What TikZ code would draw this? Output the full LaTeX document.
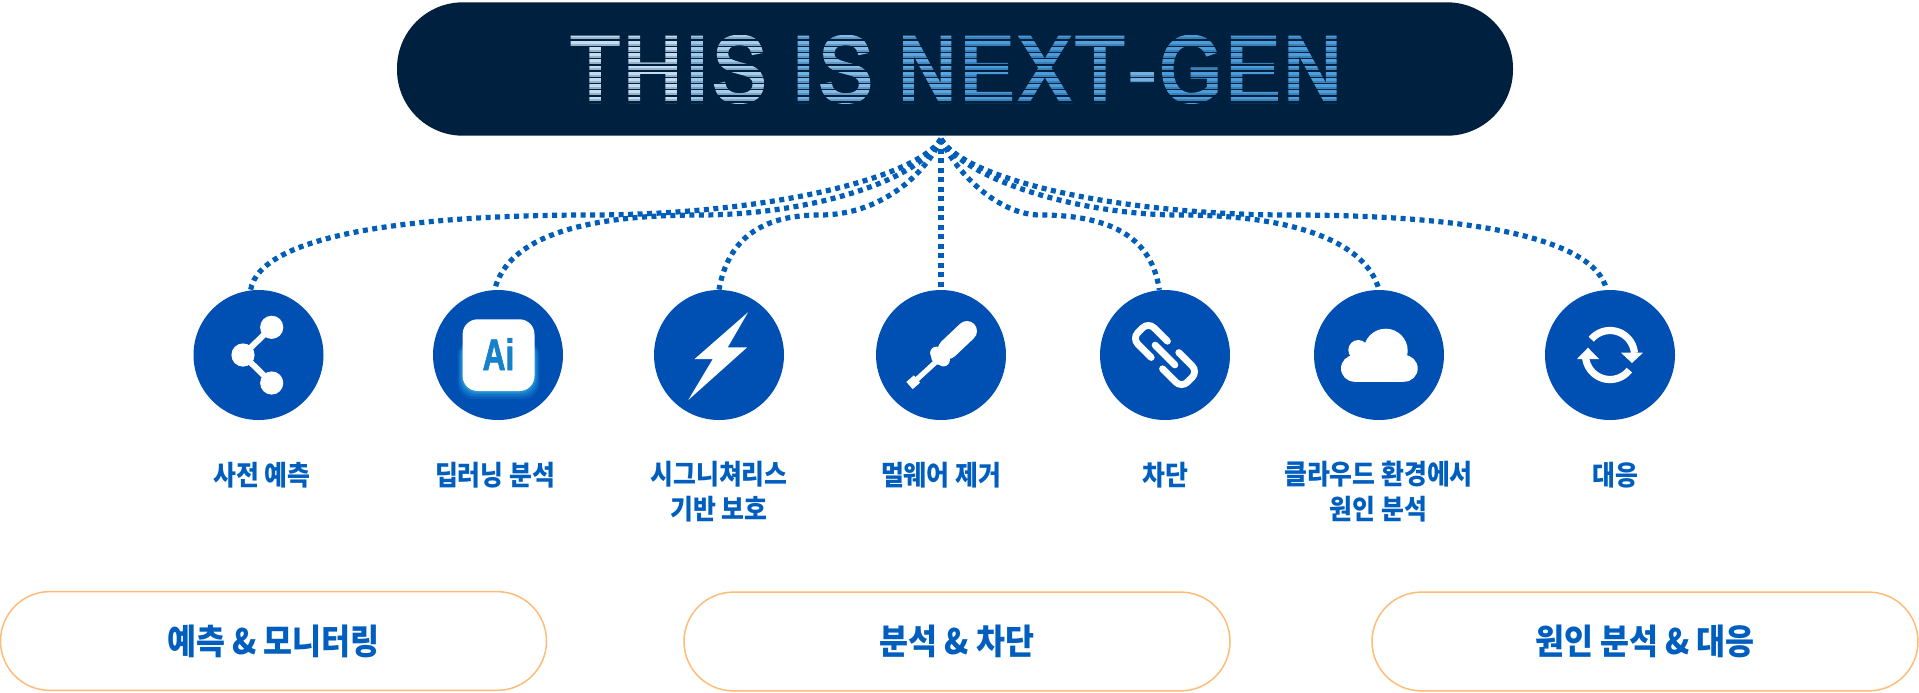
\documentclass[tikz,border=0pt]{standalone}
\usepackage{fontspec}
\setmainfont{Noto Sans CJK KR}[FakeStretch=0.9]
\newfontfamily\titlefont{Liberation Sans}[FakeStretch=0.86,FakeBold=4.5]
\newfontfamily\aifont{Liberation Sans}[UprightFont={* Bold},FakeStretch=0.72,FakeBold=1.5]
\newcommand{\tl}[2]{\textcolor[HTML]{#1}{#2}\kern2.4pt\relax}
\usetikzlibrary{calc}
\definecolor{navy}{HTML}{00203F}
\definecolor{royal}{HTML}{0050B4}
\definecolor{inkblue}{HTML}{005FBE}
\definecolor{dotblue}{HTML}{005DB8}
\definecolor{pillorange}{HTML}{FFBC78}
\definecolor{aiblue}{HTML}{1580CC}
\definecolor{glow}{HTML}{2A9BDC}
\tikzset{
  x=0.5pt,y=-0.5pt,
  banner/.style={fill=navy,draw=none,rounded corners=33pt,minimum width=558pt,minimum height=66.7pt,inner sep=0pt},
  iconball/.style={circle,fill=royal,draw=none,minimum size=65pt,inner sep=0pt},
  steplabel/.style={text=inkblue,font=\fontsize{13.8}{17.5}\selectfont\bfseries,align=center,anchor=center,inner sep=0pt},
  pill/.style={draw=pillorange,line width=0.75pt,fill=white,rounded corners=24.7pt,minimum width=273pt,minimum height=49.4pt,inner sep=0pt,text=inkblue,font=\fontsize{17.5}{20}\selectfont\bfseries},
  dotline/.style={draw=dotblue,line width=2.6pt,dash pattern=on 2.5pt off 2.25pt,line cap=butt},
  glyph/.style={fill=white,draw=none},
  glyphline/.style={draw=white,fill=none},
}
\begin{document}
\begin{tikzpicture}
\useasboundingbox (0,0) rectangle (1919,692);
% banner
\node[banner] (top) at (955,69) {};
\node[anchor=base,inner sep=0pt,font=\titlefont\fontsize{46}{46}\selectfont] (title) at (956,101) {%
\tl{C4DCF0}{T}\tl{C4DCF0}{H}\tl{9CC8EA}{I}\tl{A6CEEC}{S} \tl{6FB2E4}{I}\tl{83BCE6}{S} \tl{5AA6E0}{N}\tl{4A9CDC}{E}\tl{4A9CDC}{X}\tl{52A1DD}{T}\tl{70B0E2}{-}\tl{4A9CDA}{G}\tl{4A9CDA}{E}\textcolor[HTML]{4C9EDC}{N}};
\foreach \i in {0,...,11}{
  \fill[navy] (560,{33.2+6.2*\i}) rectangle (1350,{34.6+6.2*\i});
  \fill[navy,opacity=.22] (560,{37.4+6.2*\i}) rectangle (1350,{39.4+6.2*\i});
}
% icon circles
\node[iconball] (c1) at (258.5,355) {};
\node[iconball] (c2) at (498,355) {};
\node[iconball] (c3) at (719,355) {};
\node[iconball] (c4) at (941,355) {};
\node[iconball] (c5) at (1165,355) {};
\node[iconball] (c6) at (1379,355) {};
\node[iconball] (c7) at (1610,355) {};
% connectors
\coordinate (hub) at (941,139);
\draw[dotline] (hub) .. controls (915,180) and (760,215) .. (590,215) .. controls (410,215) and (260,235) .. (c1.97);
\draw[dotline] (hub) .. controls (915,185) and (800,215) .. (700,215) .. controls (580,215) and (508,238) .. (c2.93);
\draw[dotline] (hub) .. controls (925,175) and (880,215) .. (820,215) .. controls (760,215) and (728,240) .. (c3.north);
\draw[dotline] (hub) -- (c4.north);
\draw[dotline] (hub) .. controls (957,175) and (1000,215) .. (1040,215) .. controls (1115,215) and (1152,240) .. (c5.95);
\draw[dotline] (hub) .. controls (965,180) and (1080,215) .. (1180,215) .. controls (1290,215) and (1365,240) .. (c6.north);
\draw[dotline] (hub) .. controls (965,180) and (1120,215) .. (1290,215) .. controls (1480,215) and (1595,240) .. (c7.93);
% share icon
\draw[glyphline,line width=3pt] (271.7,327.3) -- (243,355) -- (271.7,383);
\fill[glyph] (271.7,327.3) circle[radius=5.8pt];
\fill[glyph] (243,355) circle[radius=5.8pt];
\fill[glyph] (271.7,383) circle[radius=5.8pt];
% ai icon
\foreach \g/\o in {5/.18,3.5/.3,2/.45,1/.7}{
  \fill[glow,opacity=\o,rounded corners=8pt] ({462.6-\g},340) rectangle ({534.5+\g},{391+1.6*\g});
}
\fill[glyph,rounded corners=7.5pt] (462.6,319.3) rectangle (534.5,391);
\node[inner sep=0pt,anchor=base,text=aiblue,font=\aifont\fontsize{22}{22}\selectfont] (ailabel) at (498.5,370) {Ai};
% bolt icon
\fill[glyph] (748,312.3) -- (694.6,359) -- (712.8,359) -- (688.3,400) -- (747.2,347.3) -- (727.8,347.3) -- cycle;
% screwdriver icon
\draw[glyphline,line width=10pt,line cap=round] (967,331) -- (948,349);
\draw[glyphline,line width=8pt,line cap=butt] (952,345) -- (938,358);
\fill[glyph] (936.5,353) circle[radius=3.2pt];
\fill[glyph] (943.5,360) circle[radius=3.2pt];
\fill[glyph] (939.5,356.5) circle[radius=4.2pt];
\draw[glyphline,line width=2.6pt] (938,360) -- (914,382);
\draw[glyphline,line width=4.8pt] (917,379) -- (909.5,385.5);
% chain icon
\begin{scope}[shift={(1165,355)},rotate=-45]
  \draw[glyphline,line width=3.4pt,rounded corners=4pt,line cap=round] (-8,11.5) -- (-35,11.5) -- (-35,-11.5) -- (-8,-11.5);
  \draw[glyphline,line width=3.4pt,rounded corners=4pt,line cap=round] (8,11.5) -- (35,11.5) -- (35,-11.5) -- (8,-11.5);
  \draw[glyphline,line width=3.4pt,line cap=round] (-14,0) -- (14,0);
\end{scope}
% cloud icon
\fill[glyph] (1385.7,350.7) circle[radius=11pt];
\fill[glyph] (1358.3,350) circle[radius=5pt];
\fill[glyph] (1354.3,368.4) circle[radius=6.65pt];
\fill[glyph] (1404.4,368.4) circle[radius=6.65pt];
\fill[glyph] (1354.3,356) rectangle (1404.4,381.7);
% sync icon
\draw[glyphline,line width=3.6pt] plot[domain=140:5,samples=30] ({1610+24.5*cos(\x)},{355-24.5*sin(\x)});
\draw[glyphline,line width=3.6pt] plot[domain=178:322,samples=30] ({1610+24.5*cos(\x)},{355+24.5*sin(\x-180)*(1)});
\fill[glyph] (1632,363) -- (1621,352.7) -- (1643,352.7) -- cycle;
\fill[glyph] (1588,347.7) -- (1577,359) -- (1599,359) -- cycle;
% labels
\node[steplabel] (l1) at (262,475) {사전 예측};
\node[steplabel] (l2) at (495,475) {딥러닝 분석};
\node[steplabel,anchor=north] (l3) at (719,461) {시그니쳐리스\\기반 보호};
\node[steplabel] (l4) at (941,475) {멀웨어 제거};
\node[steplabel] (l5) at (1165,475) {차단};
\node[steplabel,anchor=north] (l6) at (1378.5,461) {클라우드 환경에서\\원인 분석};
\node[steplabel] (l7) at (1615,475) {대응};
% pills
\node[pill] (p1) at (273.5,641) {예측 \& 모니터링};
\node[pill] (p2) at (957,641.5) {분석 \& 차단};
\node[pill] (p3) at (1645,641.5) {원인 분석 \& 대응};
\end{tikzpicture}
\end{document}
